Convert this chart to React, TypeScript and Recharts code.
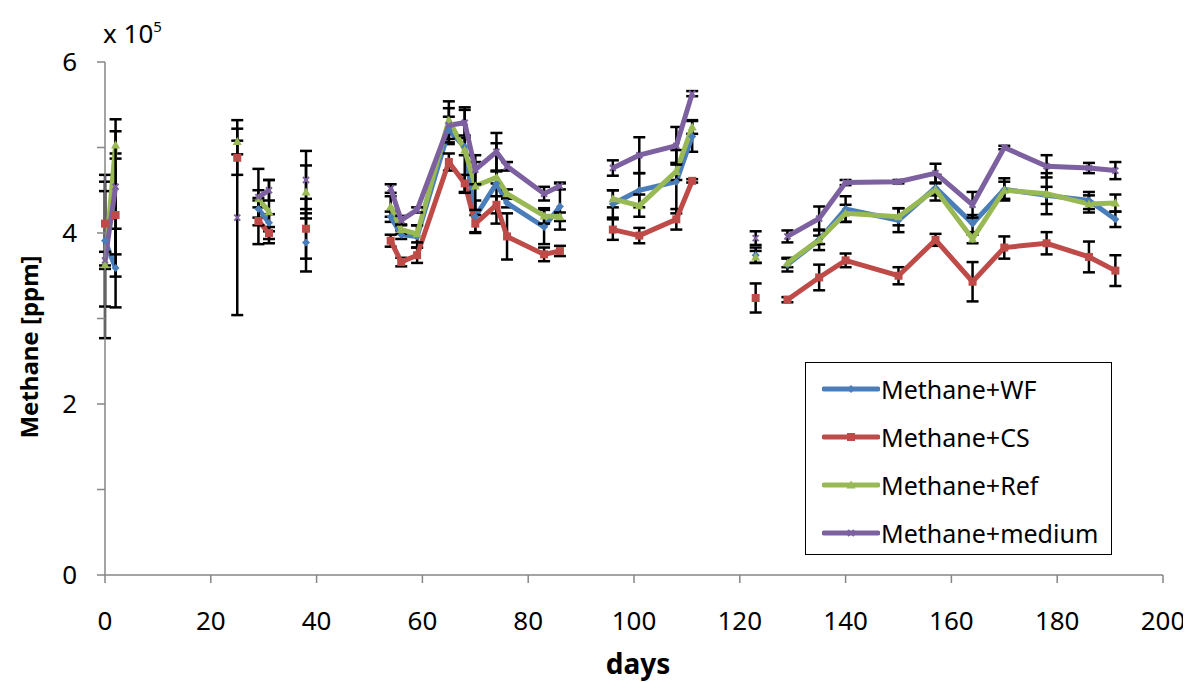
import React from 'react';
import { LineChart, Line, XAxis, YAxis, ErrorBar, Legend, Label } from 'recharts';

// sampling days and the run (segment) each day belongs to
const days = [0, 2, 25, 29, 31, 38, 54, 56, 59, 65, 68, 70, 74, 76, 83, 86, 96, 101, 108, 111, 123, 129, 135, 140, 150, 157, 164, 170, 178, 186, 191];
const segment = [1, 1, 2, 3, 3, 4, 5, 5, 5, 5, 5, 5, 5, 5, 5, 5, 6, 6, 6, 6, 7, 8, 8, 8, 8, 8, 8, 8, 8, 8, 8];

// methane, x 10^5 ppm
const wf = [3.91, 3.59, null, 4.28, 4.12, 3.89, 4.19, 3.98, 3.96, 5.2, 5.01, 4.19, 4.58, 4.35, 4.07, 4.31, 4.34, 4.5, 4.6, 5.13, 3.74, 3.63, 3.92, 4.28, 4.15, 4.53, 4.11, 4.51, 4.44, 4.38, 4.16];
const cs = [4.11, 4.21, 4.88, 4.14, 4.0, 4.05, 3.91, 3.66, 3.74, 4.83, 4.58, 4.11, 4.33, 3.96, 3.75, 3.79, 4.04, 3.97, 4.16, 4.61, 3.24, 3.22, 3.48, 3.68, 3.5, 3.92, 3.43, 3.83, 3.88, 3.72, 3.56];
const ref = [3.63, 5.03, 5.07, 4.4, 4.25, 4.48, 4.31, 4.04, 3.99, 5.32, 4.97, 4.55, 4.65, 4.46, 4.2, 4.19, 4.4, 4.32, 4.72, 5.24, 3.72, 3.65, 3.92, 4.23, 4.19, 4.51, 3.93, 4.5, 4.46, 4.34, 4.35];
const medium = [3.68, 4.54, 4.18, 4.42, 4.5, 4.62, 4.52, 4.15, 4.27, 5.26, 5.29, 4.74, 4.95, 4.78, 4.46, 4.55, 4.76, 4.91, 5.02, 5.63, 3.94, 3.96, 4.17, 4.59, 4.6, 4.7, 4.33, 5.0, 4.78, 4.76, 4.73];

// standard deviations
const wfErr = [0.77, 0.46, null, 0.1, 0.1, 0.34, 0.06, 0.05, 0.13, 0.16, 0.1, 0.19, 0.47, 0.05, 0.2, 0.27, 0.16, 0.2, 0.37, 0.18, 0.09, 0.08, 0.12, 0.15, 0.14, 0.15, 0.1, 0.13, 0.1, 0.1, 0.09];
const csErr = [0.49, 0.72, 0.2, 0.27, 0.07, 0.35, 0.07, 0.05, 0.09, 0.1, 0.1, 0.1, 0.1, 0.27, 0.08, 0.06, 0.12, 0.09, 0.12, 0.02, 0.17, 0.03, 0.15, 0.08, 0.1, 0.07, 0.23, 0.13, 0.13, 0.18, 0.18];
const refErr = [0.86, 0.16, 0.15, 0.1, 0.37, 0.31, 0.12, 0.05, 0.1, 0.22, 0.5, 0.28, 0.07, 0.05, 0.09, 0.05, 0.1, 0.13, 0.1, 0.08, 0.07, 0.05, 0.05, 0.1, 0.1, 0.07, 0.05, 0.1, 0.24, 0.1, 0.1];
const mediumErr = [0.1, 0.79, 1.14, 0.33, 0.12, 0.34, 0.05, 0.05, 0.03, 0.2, 0.15, 0.17, 0.22, 0.05, 0.08, 0.04, 0.09, 0.21, 0.22, 0.03, 0.08, 0.07, 0.14, 0.03, 0.02, 0.11, 0.15, 0.02, 0.13, 0.06, 0.1];

const xTicks = [0, 20, 40, 60, 80, 100, 120, 140, 160, 180, 200];
const yTicks = [0, 1, 2, 3, 4, 5, 6];
const yLabels = ['0', '', '2', '', '4', '', '6'];

const FONT = '"Noto Sans", "Liberation Sans", sans-serif';

const series = [
  { key: 'wf', name: 'Methane+WF', color: '#4A7EBB', shape: 'diamond' },
  { key: 'cs', name: 'Methane+CS', color: '#BE4B48', shape: 'square' },
  { key: 'ref', name: 'Methane+Ref', color: '#98B954', shape: 'triangle' },
  { key: 'medium', name: 'Methane+medium', color: '#7D60A0', shape: 'cross' },
];

// rows, with an empty row between runs so lines break there
const data: any[] = [];
days.forEach((d, i) => {
  if (i > 0 && segment[i] !== segment[i - 1]) {
    data.push({ day: (days[i - 1] + d) / 2, wf: null, cs: null, ref: null, medium: null });
  }
  data.push({
    day: d,
    wf: wf[i], cs: cs[i], ref: ref[i], medium: medium[i],
    wfErr: wfErr[i], csErr: csErr[i], refErr: refErr[i], mediumErr: mediumErr[i],
  });
});

const marker = (shape: string, color: string, cx: number, cy: number, key?: any) => {
  if (shape === 'square') return <rect key={key} x={cx - 4} y={cy - 4} width={8} height={8} fill={color} />;
  if (shape === 'diamond') return <path key={key} d={`M${cx},${cy - 4}L${cx + 4},${cy}L${cx},${cy + 4}L${cx - 4},${cy}Z`} fill={color} />;
  if (shape === 'triangle') return <path key={key} d={`M${cx},${cy - 4.5}L${cx + 4.5},${cy + 3.5}L${cx - 4.5},${cy + 3.5}Z`} fill={color} />;
  return (
    <path key={key} d={`M${cx - 3},${cy - 3}L${cx + 3},${cy + 3}M${cx + 3},${cy - 3}L${cx - 3},${cy + 3}`} stroke={color} strokeWidth={2} />
  );
};

const makeDot = (shape: string, color: string) => (props: any) => {
  const { cx, cy, index, value } = props;
  if (value == null || cx == null || cy == null || Number.isNaN(cy)) return <g key={index} />;
  return marker(shape, color, cx, cy, index);
};

const YTick = (props: any) => {
  const { x, y, payload } = props;
  return (
    <text x={x} y={y} dy="0.36em" textAnchor="end" fontSize={26} fontFamily={FONT} fill="#000">
      {yLabels[payload.index] ?? ''}
    </text>
  );
};

const renderLegend = () => (
  <div style={{ border: '1.5px solid #000', background: '#fff', width: 307, height: 193, boxSizing: 'border-box', padding: '2px 0 0 16px' }}>
    {series.map(s => (
      <div key={s.key} style={{ display: 'flex', alignItems: 'center', height: 48 }}>
        <svg width={58} height={14} style={{ marginRight: 1 }}>
          <line x1={2} y1={7} x2={56} y2={7} stroke={s.color} strokeWidth={5} strokeLinecap="round" />
          {marker(s.shape, s.color, 29, 7)}
        </svg>
        <span style={{ fontFamily: FONT, fontSize: 25, color: '#000', lineHeight: '30px' }}>{s.name}</span>
      </div>
    ))}
  </div>
);

export default function App() {
  return (
    <div style={{ width: 1183, height: 674 }}>
      <LineChart width={1183} height={674} data={data} margin={{ top: 54, right: 28, bottom: 37, left: 37 }}>
        <XAxis
          dataKey="day"
          type="number"
          domain={[0, 200]}
          ticks={xTicks}
          interval={0}
          height={70}
          tickSize={8}
          tickMargin={29}
          stroke="#868686"
          strokeWidth={1.5}
          tick={{ fontSize: 26, fontFamily: FONT, fill: '#000' }}
        >
          <Label
            content={() => (
              <text x={630} y={666} textAnchor="middle" fontSize={28} fontWeight="bold" fontFamily={FONT} fill="#000">
                days
              </text>
            )}
          />
        </XAxis>
        <YAxis
          type="number"
          domain={[0, 6]}
          ticks={yTicks}
          interval={0}
          width={60}
          tickSize={8}
          tickMargin={20}
          stroke="#868686"
          strokeWidth={1.5}
          tick={<YTick />}
        >
          <Label
            content={() => (
              <g>
                <text transform="translate(30,339) rotate(-90)" textAnchor="middle" fontSize={24} fontWeight="bold" fontFamily={FONT} fill="#000">
                  Methane [ppm]
                </text>
                <text x={95} y={35} fontSize={26} fontFamily={FONT} fill="#000">
                  x 10<tspan dy={-11} fontSize={15}>5</tspan>
                </text>
              </g>
            )}
          />
        </YAxis>
        <Legend
          layout="vertical"
          align="center"
          verticalAlign="middle"
          content={renderLegend}
          wrapperStyle={{ position: 'absolute', left: 797, top: 354, width: 307, height: 193 }}
        />
        {series.map(s => (
          <Line
            key={s.key}
            dataKey={s.key}
            name={s.name}
            stroke={s.color}
            strokeWidth={5}
            connectNulls={false}
            dot={makeDot(s.shape, s.color)}
            activeDot={false}
            isAnimationActive={false}
          >
            <ErrorBar dataKey={`${s.key}Err`} width={6} strokeWidth={2.5} stroke="#000" direction="y" />
          </Line>
        ))}
      </LineChart>
    </div>
  );
}
